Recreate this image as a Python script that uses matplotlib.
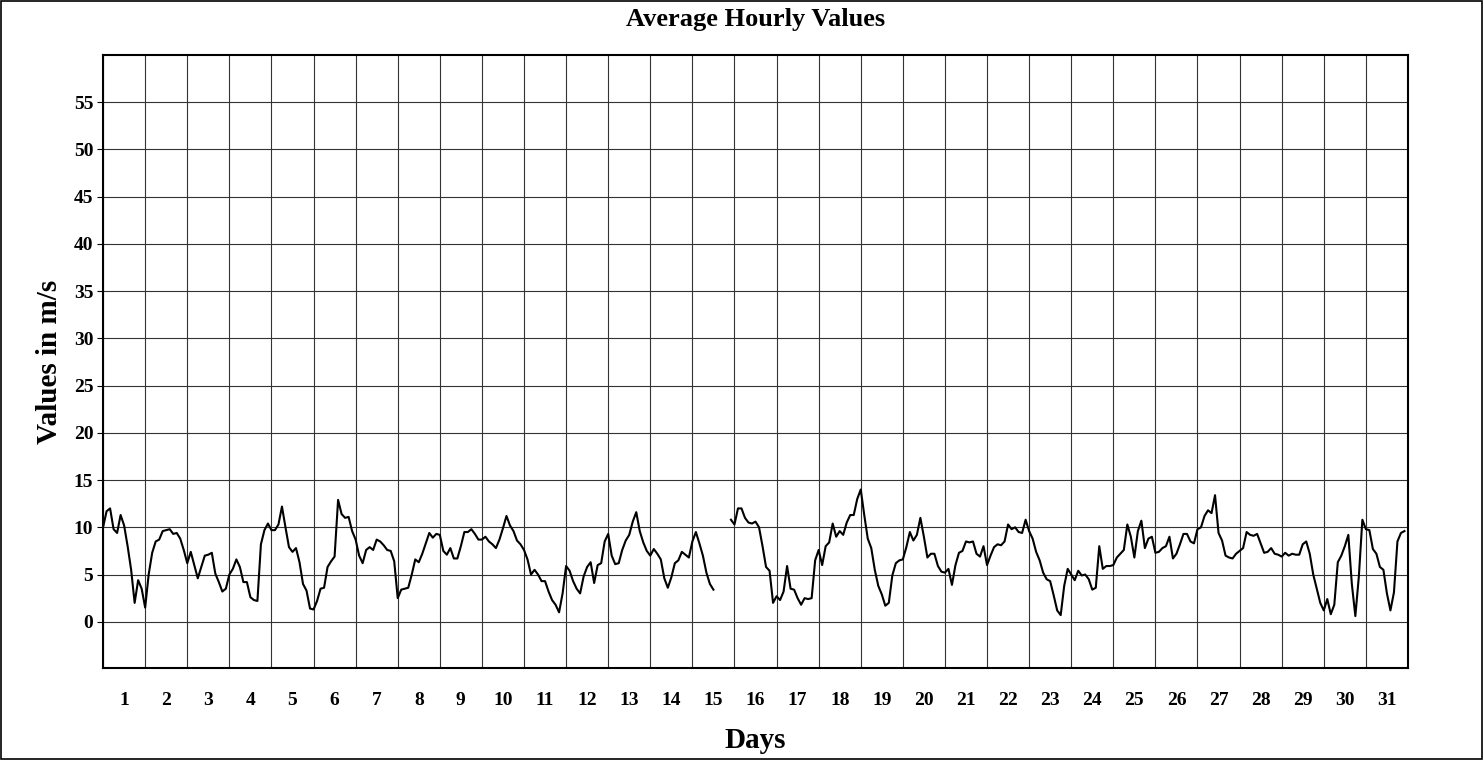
import numpy as np
import matplotlib.pyplot as plt
from matplotlib.patches import Rectangle

plt.rcParams['font.family'] = ['Liberation Serif', 'DejaVu Serif']
plt.rcParams['font.weight'] = 'bold'

# hourly averages read every 2 hours (0, 2, ..., 22), one row per day
hours = np.arange(0, 24, 2)
week1 = [
    [10.0, 11.7, 12.0, 9.8, 9.4, 11.3, 10.2, 8.0, 5.5, 2.0, 4.4, 3.5],
    [1.5, 5.0, 7.3, 8.5, 8.7, 9.6, 9.7, 9.8, 9.3, 9.4, 8.8, 7.6],
    [6.2, 7.4, 6.0, 4.6, 5.8, 7.0, 7.1, 7.3, 5.1, 4.2, 3.2, 3.5],
    [5.0, 5.6, 6.6, 5.8, 4.2, 4.2, 2.6, 2.3, 2.2, 8.2, 9.7, 10.4],
    [9.7, 9.7, 10.3, 12.2, 10.0, 7.9, 7.4, 7.8, 6.3, 4.0, 3.3, 1.4],
    [1.3, 2.2, 3.5, 3.6, 5.8, 6.4, 6.9, 12.9, 11.4, 11.0, 11.1, 9.6],
    [8.7, 7.0, 6.2, 7.6, 7.9, 7.6, 8.7, 8.5, 8.1, 7.6, 7.5, 6.4],
]
week2 = [
    [2.5, 3.4, 3.5, 3.6, 5.0, 6.6, 6.3, 7.2, 8.3, 9.4, 8.9, 9.3],
    [9.2, 7.5, 7.1, 7.8, 6.7, 6.7, 8.0, 9.5, 9.5, 9.8, 9.3, 8.7],
    [8.7, 9.0, 8.5, 8.2, 7.8, 8.7, 9.9, 11.2, 10.2, 9.6, 8.6, 8.2],
    [7.6, 6.6, 5.0, 5.5, 5.0, 4.3, 4.3, 3.2, 2.3, 1.8, 1.0, 3.0],
    [5.9, 5.4, 4.3, 3.5, 3.0, 4.8, 5.8, 6.3, 4.1, 6.0, 6.2, 8.5],
    [9.3, 7.0, 6.1, 6.2, 7.6, 8.6, 9.2, 10.6, 11.6, 9.6, 8.4, 7.5],
    [7.0, 7.7, 7.2, 6.6, 4.6, 3.6, 4.7, 6.2, 6.5, 7.4, 7.1, 6.8],
]
week3 = [
    [8.5, 9.5, 8.3, 7.0, 5.2, 4.0, 3.4, np.nan, np.nan, np.nan, np.nan, 10.8],
    [10.3, 12.0, 12.0, 11.0, 10.5, 10.4, 10.6, 10.0, 8.0, 5.8, 5.4, 2.0],
    [2.7, 2.3, 3.2, 5.9, 3.5, 3.4, 2.5, 1.8, 2.5, 2.4, 2.5, 6.5],
    [7.6, 6.0, 8.0, 8.4, 10.4, 9.0, 9.6, 9.2, 10.5, 11.3, 11.3, 13.0],
    [14.0, 11.3, 8.8, 7.8, 5.5, 3.8, 2.9, 1.7, 2.0, 4.9, 6.2, 6.5],
    [6.6, 7.9, 9.5, 8.6, 9.2, 11.0, 9.0, 6.8, 7.2, 7.2, 5.9, 5.3],
    [5.2, 5.6, 3.9, 6.0, 7.3, 7.5, 8.5, 8.4, 8.5, 7.2, 6.9, 8.0],
]
week4 = [
    [6.0, 7.0, 7.9, 8.2, 8.1, 8.5, 10.3, 9.8, 10.0, 9.5, 9.4, 10.8],
    [9.6, 8.8, 7.4, 6.5, 5.2, 4.5, 4.3, 2.8, 1.2, 0.7, 3.8, 5.6],
    [5.0, 4.4, 5.4, 4.9, 5.0, 4.5, 3.4, 3.6, 8.0, 5.6, 5.9, 5.9],
    [6.0, 6.8, 7.2, 7.6, 10.3, 9.0, 6.8, 9.6, 10.7, 7.8, 8.8, 9.0],
    [7.3, 7.4, 7.8, 8.0, 9.0, 6.7, 7.2, 8.2, 9.3, 9.3, 8.5, 8.3],
    [9.8, 10.0, 11.2, 11.8, 11.5, 13.4, 9.4, 8.6, 7.0, 6.8, 6.7, 7.2],
    [7.5, 7.8, 9.5, 9.2, 9.1, 9.3, 8.3, 7.3, 7.4, 7.8, 7.2, 7.1],
]
week5 = [
    [6.9, 7.3, 7.0, 7.2, 7.1, 7.1, 8.2, 8.5, 7.2, 5.0, 3.5, 2.0],
    [1.2, 2.4, 0.8, 1.8, 6.3, 7.0, 8.0, 9.2, 4.0, 0.6, 4.8, 10.8],
    [9.8, 9.7, 7.7, 7.2, 5.8, 5.5, 3.0, 1.2, 3.1, 8.5, 9.4, 9.6],
]
day_labels = [str(d) for d in range(1, 32)]
y_ticks = list(range(0, 60, 5))

values = np.array(week1 + week2 + week3 + week4 + week5).ravel()
days = (np.arange(31)[:, None] + hours[None, :] / 24).ravel()

fig = plt.figure(figsize=(14.83, 7.6), dpi=100)
ax = fig.add_axes([0.0695, 0.121, 0.8799, 0.8066])

ax.plot(days, values, color='black', lw=1.5)

ax.set_xlim(0, 31)
ax.set_ylim(-4.9, 60)
ax.set_xticks(np.arange(0, 32))
ax.set_xticklabels([])
ax.set_xticks(np.arange(31) + 0.5, minor=True)
ax.set_xticklabels(day_labels, minor=True)
ax.tick_params(axis='x', which='both', length=0, labelsize=14, pad=17)
ax.set_yticks(y_ticks)
ax.tick_params(axis='y', length=4, labelsize=14, pad=3)
ax.grid(True, which='major', color='#333333', lw=0.8)
for s in ax.spines.values():
    s.set_linewidth(1.5)

ax.set_title('Average Hourly Values', fontsize=19, fontweight='bold', pad=21)
ax.set_xlabel('Days', fontsize=21, fontweight='bold', labelpad=13)
ax.set_ylabel('Values in m/s', fontsize=21, fontweight='bold', labelpad=8)

fig.patches.append(Rectangle((0.0005, 0.001), 0.999, 0.998, transform=fig.transFigure,
                             fill=False, edgecolor='black', lw=1.2))

fig.savefig('out.png', dpi=100)
